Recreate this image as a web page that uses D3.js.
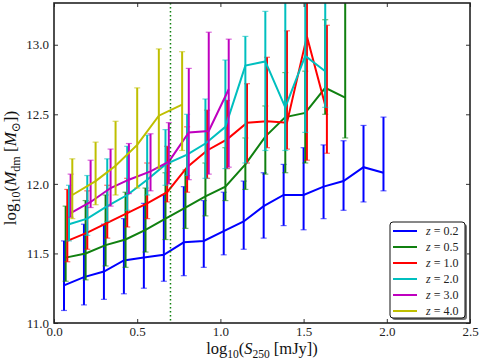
<!DOCTYPE html>
<html><head><meta charset="utf-8">
<script src="https://cdn.jsdelivr.net/npm/d3@7"></script>
<style>body{margin:0;background:#fff}svg{display:block}text{font-family:"Liberation Serif","DejaVu Serif",serif}</style>
</head><body>
<svg id="c" width="480" height="361"></svg>
<script>
const xTicks = [0.0, 0.5, 1.0, 1.5, 2.0, 2.5];
const yTicks = [11.0, 11.5, 12.0, 12.5, 13.0];
const labels = ["0.2", "0.5", "1.0", "2.0", "3.0", "4.0"];
const colors = ["#0000ff", "#108010", "#ff0000", "#00bfbf", "#bf00bf", "#bfbf00"];
const cutX = 0.7;

const x02 = [0.06,0.18,0.30,0.42,0.54,0.66,0.78,0.90,1.02,1.14,1.26,1.38,1.50,1.62,1.74,1.86,1.98];
const y02 = [11.27,11.33,11.37,11.45,11.47,11.49,11.58,11.59,11.66,11.73,11.84,11.92,11.92,11.98,12.02,12.12,12.08];
const hi02 = [11.59,11.71,11.71,11.75,11.86,11.92,11.98,11.88,11.94,12.02,12.08,12.14,12.26,12.28,12.31,12.42,12.48];
const lo02 = [11.09,11.13,11.17,11.21,11.25,11.30,11.34,11.40,11.49,11.53,11.61,11.70,11.67,11.75,11.81,11.87,11.95];

const x05 = [0.07,0.19,0.31,0.43,0.55,0.67,0.79,0.91,1.03,1.15,1.27,1.39,1.51,1.63,1.75];
const y05 = [11.47,11.50,11.56,11.60,11.67,11.75,11.83,11.91,11.98,12.14,12.34,12.48,12.51,12.69,12.62];
const hi05 = [11.84,11.88,11.92,11.94,11.97,12.08,12.10,12.15,12.26,12.33,12.56,12.80,12.81,13.18,13.50];
const lo05 = [11.30,11.31,11.41,11.40,11.51,11.60,11.68,11.77,11.88,11.96,12.07,12.08,12.15,12.50,12.33];

const x10 = [0.08,0.20,0.32,0.44,0.56,0.68,0.80,0.92,1.04,1.16,1.28,1.40,1.52,1.64];
const y10 = [11.59,11.65,11.72,11.79,11.86,11.94,12.12,12.24,12.32,12.44,12.45,12.44,13.06,12.52];
const hi10 = [11.96,11.95,11.99,12.04,12.15,12.27,12.41,12.53,12.60,12.72,12.91,13.10,13.50,13.14];
const lo10 = [11.44,11.53,11.61,11.69,11.75,11.87,11.94,12.04,12.11,12.15,12.26,12.25,12.17,12.22];

const x20 = [0.09,0.20,0.32,0.44,0.56,0.67,0.80,0.91,1.03,1.15,1.27,1.39,1.51,1.63];
const y20 = [11.71,11.75,11.84,11.92,12.03,12.14,12.21,12.29,12.41,12.85,12.88,12.55,12.92,12.81];
const hi20 = [11.99,12.06,12.18,12.27,12.35,12.39,12.50,12.61,12.89,13.06,13.24,13.50,13.50,13.50];
const lo20 = [11.59,11.63,11.73,11.81,11.92,11.99,12.06,12.04,12.11,12.15,12.24,12.24,12.37,12.55];

const x30 = [0.10,0.22,0.34,0.45,0.58,0.69,0.81,0.93,1.05];
const y30 = [11.79,11.87,11.97,12.03,12.09,12.16,12.37,12.38,12.68];
const hi30 = [12.07,12.17,12.25,12.29,12.36,12.44,12.83,13.09,13.04];
const lo30 = [11.76,11.83,11.84,11.93,11.95,12.00,12.03,12.07,12.12];

const x40 = [0.11,0.25,0.37,0.50,0.63,0.77];
const y40 = [11.92,12.02,12.13,12.28,12.49,12.57];
const hi40 = [12.18,12.30,12.45,12.69,12.97,12.95];
const lo40 = [11.75,11.85,11.92,11.97,12.11,12.24];

const series = [
  {x:x02,y:y02,hi:hi02,lo:lo02},{x:x05,y:y05,hi:hi05,lo:lo05},{x:x10,y:y10,hi:hi10,lo:lo10},
  {x:x20,y:y20,hi:hi20,lo:lo20},{x:x30,y:y30,hi:hi30,lo:lo30},{x:x40,y:y40,hi:hi40,lo:lo40}
];

const L=54, R=470, T=3, B=323;
const xs = d3.scaleLinear().domain([0,2.5]).range([L,R]);
const ys = d3.scaleLinear().domain([11.0,13.3]).range([B,T]);
const svg = d3.select("#c");

svg.append("defs").append("clipPath").attr("id","clip")
  .append("rect").attr("x",L).attr("y",T).attr("width",R-L).attr("height",B-T);

const plot = svg.append("g").attr("clip-path","url(#clip)");

series.forEach((s,k)=>{
  const g = plot.append("g");
  const c = colors[k];
  s.x.forEach((xv,i)=>{
    g.append("line").attr("x1",xs(xv)).attr("x2",xs(xv)).attr("y1",ys(s.lo[i])).attr("y2",ys(s.hi[i]))
      .attr("stroke",c).attr("stroke-width",2);
    [s.lo[i],s.hi[i]].forEach(v=>{
      g.append("line").attr("x1",xs(xv)-3).attr("x2",xs(xv)+3).attr("y1",ys(v)).attr("y2",ys(v))
        .attr("stroke",c).attr("stroke-width",1.2).attr("stroke-opacity",0.6);
    });
  });
  g.append("path").datum(s.x.map((xv,i)=>[xv,s.y[i]]))
    .attr("d",d3.line().x(d=>xs(d[0])).y(d=>ys(d[1])))
    .attr("fill","none").attr("stroke",c).attr("stroke-width",2);
});

plot.append("line").attr("x1",xs(cutX)).attr("x2",xs(cutX)).attr("y1",T).attr("y2",B)
  .attr("stroke","#108010").attr("stroke-width",1.5).attr("stroke-dasharray","1.5,2.5");

// axes with inward ticks
const axB = d3.axisBottom(xs).tickValues(xTicks).tickFormat(d3.format(".1f")).tickSizeInner(-4).tickSizeOuter(0).tickPadding(4);
const axT = d3.axisTop(xs).tickValues(xTicks).tickFormat("").tickSizeInner(-4).tickSizeOuter(0);
const axLf = d3.axisLeft(ys).tickValues(yTicks).tickFormat(d3.format(".1f")).tickSizeInner(-4).tickSizeOuter(0).tickPadding(5);
const axRt = d3.axisRight(ys).tickValues(yTicks).tickFormat("").tickSizeInner(-4).tickSizeOuter(0);
function style(g){
  g.select(".domain").remove();
  g.selectAll(".tick line").attr("stroke","#333").attr("stroke-width",1);
  g.selectAll(".tick text").attr("font-size",13).attr("fill","#222").attr("font-family","Liberation Serif, DejaVu Serif, serif");
}
svg.append("g").attr("transform",`translate(0,${B})`).call(axB).call(style);
svg.append("g").attr("transform",`translate(0,${T})`).call(axT).call(style);
svg.append("g").attr("transform",`translate(${L},0)`).call(axLf).call(style);
svg.append("g").attr("transform",`translate(${R},0)`).call(axRt).call(style);

svg.append("rect").attr("x",L).attr("y",T).attr("width",R-L).attr("height",B-T)
  .attr("fill","none").attr("stroke","#222").attr("stroke-width",1.6);

// axis labels
const xl = svg.append("text").attr("x",262).attr("y",354).attr("text-anchor","middle").attr("font-size",16.5).attr("fill","#111");
xl.append("tspan").text("log");
xl.append("tspan").text("10").attr("font-size",11.5).attr("dy",3.5);
xl.append("tspan").text("(").attr("dy",-3.5);
xl.append("tspan").text("S").attr("font-style","italic");
xl.append("tspan").text("250").attr("font-size",11.5).attr("dy",3.5);
xl.append("tspan").text(" [mJy])").attr("dy",-3.5);

const yl = svg.append("text").attr("transform",`translate(16,168) rotate(-90)`).attr("text-anchor","middle").attr("font-size",17).attr("fill","#111");
yl.append("tspan").text("log");
yl.append("tspan").text("10").attr("font-size",12).attr("dy",4);
yl.append("tspan").text("(").attr("dy",-4);
yl.append("tspan").text("M").attr("font-style","italic");
yl.append("tspan").text("dm").attr("font-size",12).attr("dy",4);
yl.append("tspan").text(" [").attr("dy",-4);
yl.append("tspan").text("M").attr("font-style","italic");
yl.append("tspan").text("⊙").attr("font-size",12).attr("dy",4);
yl.append("tspan").text("])").attr("dy",-4);

// legend
const lg = svg.append("g");
const lx=390, ly=222, lw=75, lh=96;
lg.append("rect").attr("x",lx+2).attr("y",ly+2).attr("width",lw).attr("height",lh).attr("rx",3).attr("fill","#777");
lg.append("rect").attr("x",lx).attr("y",ly).attr("width",lw).attr("height",lh).attr("rx",3).attr("fill","#fff").attr("stroke","#111").attr("stroke-width",1);
labels.forEach((lab,i)=>{
  const yy = ly+9+i*16;
  lg.append("line").attr("x1",lx+3).attr("x2",lx+27).attr("y1",yy).attr("y2",yy).attr("stroke",colors[i]).attr("stroke-width",2);
  const t = lg.append("text").attr("x",lx+36).attr("y",yy+4).attr("font-size",12).attr("fill","#222");
  t.append("tspan").text("z").attr("font-style","italic");
  t.append("tspan").text(" = "+lab);
});
</script>
</body></html>
